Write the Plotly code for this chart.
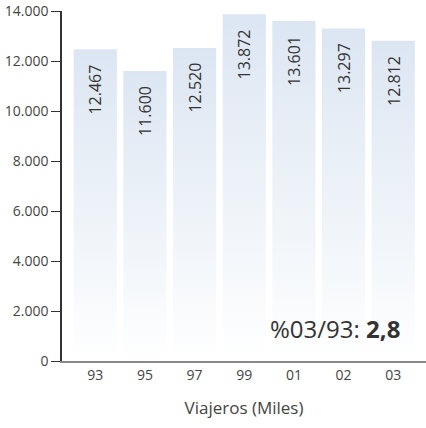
import plotly.graph_objects as go

# data
years = ["93", "95", "97", "99", "01", "02", "03"]
viajeros = [12467, 11600, 12520, 13872, 13601, 13297, 12812]
labels = ["12.467", "11.600", "12.520", "13.872", "13.601", "13.297", "12.812"]
y_ticks = [0, 2000, 4000, 6000, 8000, 10000, 12000, 14000]

bar_w = 0.87
fig = go.Figure()

# bars drawn as filled shapes so they can carry a vertical gradient
for i, v in enumerate(viajeros):
    x0, x1 = i - bar_w / 2, i + bar_w / 2
    fig.add_trace(go.Scatter(
        x=[x0, x1, x1, x0, x0], y=[0, 0, v, v, 0],
        mode="lines", line=dict(width=0),
        fill="toself",
        fillgradient=dict(type="vertical",
                          colorscale=[[0, "#ffffff"], [0.35, "#f2f6fa"], [1, "#dce6f2"]]),
        hoverinfo="skip", showlegend=False,
    ))
    fig.add_annotation(x=i, y=v, text=labels[i], textangle=-90, showarrow=False,
                       yanchor="top", yshift=-13, font=dict(size=16, color="#333333"))

fig.add_annotation(x=1, xref="paper", xanchor="right", xshift=-24, y=1320, yanchor="middle",
                   text="%03/93: <b>2,8</b>", showarrow=False,
                   font=dict(size=24, color="#333333"))

fig.update_layout(
    width=426, height=428,
    margin=dict(l=62, r=0, t=11, b=67),
    plot_bgcolor="white", paper_bgcolor="white",
    font=dict(family="Open Sans", color="#444444"),
    separators=",.",
)
fig.update_xaxes(
    range=[-0.67, 6.66], tickvals=list(range(len(years))), ticktext=years,
    showgrid=False, zeroline=False, showline=True, linecolor="#888888", linewidth=1.5,
    ticks="", tickfont=dict(size=14), automargin=False,
    title=dict(text="Viajeros (Miles)", font=dict(size=17, color="#444444"), standoff=20),
)
fig.update_yaxes(
    range=[0, 14000], tickvals=y_ticks, tickformat=",d",
    showgrid=False, zeroline=False, showline=True, linecolor="#333333", linewidth=1.5,
    ticks="outside", ticklen=9, tickcolor="#333333", tickfont=dict(size=14),
    automargin=False,
)

# drop the browser's default page margin so the chart sits at the window corner
fig.write_html("out.html", config={"displayModeBar": False},
               post_script="document.body.style.margin='0';")
